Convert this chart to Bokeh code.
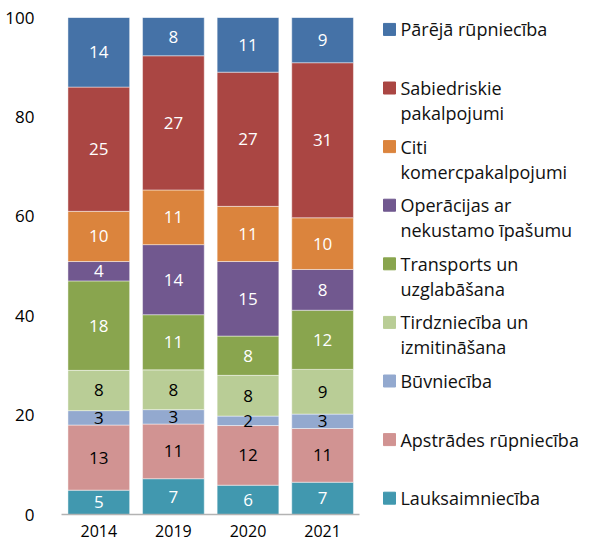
from bokeh.plotting import figure
from bokeh.models import ColumnDataSource, Range1d, FixedTicker
from bokeh.core.properties import value
from bokeh.embed import file_html
from bokeh.resources import INLINE

years = ["2014", "2019", "2020", "2021"]

# stacking order: bottom -> top
categories = [
    "Lauksaimniecība",
    "Apstrādes rūpniecība",
    "Būvniecība",
    "Tirdzniecība un izmitināšana",
    "Transports un uzglabāšana",
    "Operācijas ar nekustamo īpašumu",
    "Citi komercpakalpojumi",
    "Sabiedriskie pakalpojumi",
    "Pārējā rūpniecība",
]
legend_labels = [
    "Lauksaimniecība",
    "Apstrādes rūpniecība",
    "Būvniecība",
    "Tirdzniecība un\nizmitināšana",
    "Transports un\nuzglabāšana",
    "Operācijas ar\nnekustamo īpašumu",
    "Citi\nkomercpakalpojumi",
    "Sabiedriskie\npakalpojumi",
    "Pārējā rūpniecība",
]
colors = ["#4198AF", "#D19392", "#93A9CF", "#B9CD96", "#89A54E",
          "#71588F", "#DB843D", "#AA4643", "#4572A7"]
label_colors = ["white", "black", "black", "black", "white",
                "white", "white", "white", "white"]

# segment heights (percent)
lauksaimnieciba = [4.9, 7.2, 5.9, 6.5]
apstrades = [13.1, 11.0, 12.0, 10.8]
buvnieciba = [2.9, 2.9, 1.9, 2.9]
tirdznieciba = [8.1, 8.0, 8.2, 9.0]
transports = [18.0, 11.1, 7.9, 11.9]
operacijas = [3.9, 14.1, 15.0, 8.2]
citi = [10.1, 11.0, 11.1, 10.4]
sabiedriskie = [25.0, 27.0, 27.0, 31.2]
pareja = [14.0, 7.7, 11.0, 9.1]

# printed labels
lab_lauksaimnieciba = [5, 7, 6, 7]
lab_apstrades = [13, 11, 12, 11]
lab_buvnieciba = [3, 3, 2, 3]
lab_tirdznieciba = [8, 8, 8, 9]
lab_transports = [18, 11, 8, 12]
lab_operacijas = [4, 14, 15, 8]
lab_citi = [10, 11, 11, 10]
lab_sabiedriskie = [25, 27, 27, 31]
lab_pareja = [14, 8, 11, 9]

y_ticks = [0, 20, 40, 60, 80, 100]

series = [lauksaimnieciba, apstrades, buvnieciba, tirdznieciba, transports,
          operacijas, citi, sabiedriskie, pareja]
labels = [lab_lauksaimnieciba, lab_apstrades, lab_buvnieciba, lab_tirdznieciba,
          lab_transports, lab_operacijas, lab_citi, lab_sabiedriskie, lab_pareja]

FONT = "Open Sans"
n_years = len(years)
xpos = [i + 0.5 for i in range(n_years)]  # category centres

keys = [f"s{i}" for i in range(len(categories))]
data = {"x": xpos}
for k, s in zip(keys, series):
    data[k] = s
source = ColumnDataSource(data)

# frame: chart occupies x in [0, 4]; the rest of the frame holds the legend
p = figure(x_range=Range1d(0, 6.984), y_range=Range1d(0, 100),
           width=582, height=541, output_backend="svg", toolbar_location=None,
           min_border_left=61, min_border_right=0, min_border_top=17, min_border_bottom=27)
p.vbar_stack(keys, x="x", width=0.827, color=colors, source=source,
             line_color="white", line_alpha=0.45, line_width=1)

# value labels
lx, ly, lt, lc = [], [], [], []
for j in range(n_years):
    base = 0.0
    for s, lab, col in zip(series, labels, label_colors):
        lx.append(xpos[j])
        ly.append(base + s[j] / 2.0)
        lt.append(str(lab[j]))
        lc.append(col)
        base += s[j]
lsrc = ColumnDataSource(dict(x=lx, y=ly, text=lt, color=lc))
p.text(x="x", y="y", text="text", text_color="color", source=lsrc,
       text_align="center", text_baseline="middle", text_font=value(FONT),
       text_font_size="17px")

p.xgrid.visible = False
p.ygrid.visible = False
p.outline_line_color = None

p.yaxis.ticker = FixedTicker(ticks=y_ticks)
p.yaxis.axis_line_color = None
p.yaxis.major_tick_line_color = None
p.yaxis.minor_tick_line_color = None
p.yaxis.major_label_standoff = 21

p.xaxis.ticker = FixedTicker(ticks=xpos)
p.xaxis.major_label_overrides = {x: y for x, y in zip(xpos, years)}
p.xaxis.bounds = (0, n_years)
p.xaxis.axis_line_color = "#B3B3B3"
p.xaxis.axis_line_width = 1.5
p.xaxis.major_tick_line_color = None
p.xaxis.minor_tick_line_color = None
p.xaxis.major_label_standoff = 4
for ax in (p.xaxis, p.yaxis):
    ax.major_label_text_font = FONT
    ax.major_label_text_color = "black"
p.yaxis.major_label_text_font_size = "17px"
p.xaxis.major_label_text_font_size = "16px"

# legend drawn inside the right part of the frame
n = len(categories)
order = list(range(n))[::-1]  # top entry = last stacked series
leg_top = 97.6
leg_step = 11.79
ys = [leg_top - leg_step * i for i in range(n)]
first = [legend_labels[k].split("\n")[0] for k in order]
second = [(legend_labels[k].split("\n") + [""])[1] for k in order]
lcols = [colors[k] for k in order]
lgsrc = ColumnDataSource(dict(x=[4.397] * n, tx=[4.544] * n, y=ys, c=lcols,
                              t1=first, t2=second))
p.scatter(x="x", y="y", marker="square", size=12, color="c", source=lgsrc)
p.text(x="tx", y="y", text="t1", source=lgsrc, text_baseline="middle",
       text_font=value(FONT), text_font_size="18px", text_color="#111111")
p.text(x="tx", y="y", text="t2", source=lgsrc, text_baseline="middle", y_offset=25,
       text_font=value(FONT), text_font_size="18px", text_color="#111111")

open("out.html", "w").write(file_html(p, INLINE))
